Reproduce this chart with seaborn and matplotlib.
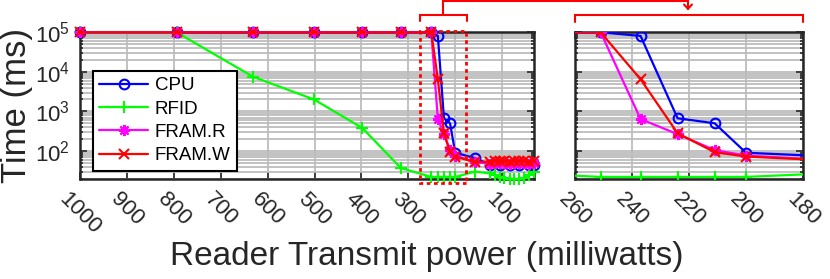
import numpy as np
import matplotlib
matplotlib.use("Agg")
import matplotlib.pyplot as plt
import seaborn as sns
from matplotlib.ticker import LogLocator, NullFormatter, FixedLocator
from matplotlib.lines import Line2D
from matplotlib.patches import Rectangle

# ---------------- data ----------------
power_mw = [1000, 794, 631, 501, 398, 316, 251, 237, 224, 211, 200, 158,
            126, 116, 105, 95, 84, 74, 63, 53, 42, 32]
cpu_power = [1000, 794, 631, 501, 398, 316, 251, 237, 224, 211, 200, 158,
             126, 105, 84, 63, 42, 32]
cpu_ms = [100000, 100000, 100000, 100000, 100000, 100000, 100000, 81000, 670,
          500, 90, 66, 45, 44, 45, 44, 45, 44]
rfid_ms = [100000, 100000, 7500, 2000, 380, 37, 22, 22, 22, 22, 22, 30,
           27, 24, 22, 21, 20, 19, 20, 21, 25, 30]
framr_ms = [100000, 100000, 100000, 100000, 100000, 100000, 100000, 640, 265,
            105, 76, 52, 48, 50, 49, 50, 48, 50, 49, 50, 48, 50]
framw_ms = [100000, 100000, 100000, 100000, 100000, 100000, 100000, 6500, 280,
            93, 72, 52, 54, 56, 55, 56, 54, 56, 55, 56, 54, 56]

left_ticks = [1000, 900, 800, 700, 600, 500, 400, 300, 200, 100]
right_ticks = [260, 240, 220, 200, 180]
y_ticks = [1e2, 1e3, 1e4, 1e5]

# ---------------- style ----------------
sns.set_style("ticks")
plt.rcParams["font.family"] = ["Liberation Sans", "DejaVu Sans"]
plt.rcParams["mathtext.fontset"] = "custom"
plt.rcParams["mathtext.rm"] = "Liberation Sans"
plt.rcParams["mathtext.it"] = "Liberation Sans:italic"
TXT = "#262626"

W, H = 830, 279
fig = plt.figure(figsize=(W / 100, H / 100), dpi=100)


def px(x, y):
    return x / W, 1 - y / H


ax_bottom = 1 - 179 / H
ax_height = 146.7 / H
ax1 = fig.add_axes([80 / W, ax_bottom, 454 / W, ax_height])
ax2 = fig.add_axes([575 / W, ax_bottom, 228 / W, ax_height])

series = [
    ("CPU", cpu_power, cpu_ms, (0, 0, 1), "o", dict(markerfacecolor="none", markersize=7)),
    ("RFID", power_mw, rfid_ms, (0, 1, 0), "+", dict(markersize=8)),
    ("FRAM.R", power_mw, framr_ms, (1, 0, 1), (8, 2, 0), dict(markersize=8)),
    ("FRAM.W", power_mw, framw_ms, (1, 0, 0), "x", dict(markersize=6.5)),
]

for ax in (ax1, ax2):
    ax.set_yscale("log")
    for name, xs, ys, col, mk, extra in series:
        sns.lineplot(x=xs, y=ys, ax=ax, color=col, marker=mk, markeredgecolor=col,
                     markeredgewidth=1.5, linewidth=1.6, estimator=None, sort=False,
                     label=name if ax is ax1 else None, zorder=3, **extra)
    ax.set_ylim(19.5, 1e5)
    ax.yaxis.set_major_locator(FixedLocator(y_ticks))
    ax.yaxis.set_minor_locator(LogLocator(base=10, subs=np.arange(2, 10), numticks=20))
    ax.yaxis.set_minor_formatter(NullFormatter())
    ax.grid(True, which="major", axis="both", color="#b8b8b8", lw=1.2)
    ax.grid(True, which="minor", axis="y", color="#bdbdbd", lw=1.3)
    ax.set_axisbelow(True)
    ax.tick_params(which="both", direction="in", top=True, right=True, colors=TXT,
                   width=1.2)
    ax.tick_params(which="major", length=5, labelsize=16)
    ax.tick_params(axis="x", which="major", pad=7)
    ax.tick_params(axis="y", which="major", labelsize=16, pad=7)
    ax.tick_params(which="minor", length=2.5)
    for sp in ax.spines.values():
        sp.set_visible(True)
        sp.set_linewidth(1.8)
        sp.set_color(TXT)
    ax.set_xlabel("")
    ax.set_ylabel("")

# markers on the axis edge are drawn whole in the reference
for ln in ax1.get_lines():
    ln.set_clip_on(False)

ax1.set_xlim(1000, 32)
ax1.set_xticks(left_ticks)
ax1.set_xticklabels([str(t) for t in left_ticks], rotation=-45, ha="center", va="top")
ax2.set_xlim(260, 180)
ax2.set_xticks(right_ticks)
ax2.set_xticklabels([str(t) for t in right_ticks], rotation=-45, ha="center", va="top")
ax2.tick_params(axis="y", labelleft=False)
if ax2.get_legend() is not None:
    ax2.get_legend().remove()

ax1.set_ylabel("Time (ms)", fontsize=25, color=TXT)
ax1.yaxis.set_label_coords(-0.103, 0.5)

handles, labels = ax1.get_legend_handles_labels()
leg = ax1.legend(handles, labels, loc="upper left", bbox_to_anchor=(0.028, 0.738),
                 fontsize=13.5, frameon=True, fancybox=False, framealpha=1,
                 edgecolor="black", handlelength=2.6, handletextpad=0.35,
                 labelspacing=0.33, borderpad=0.35, borderaxespad=0)
leg.get_frame().set_linewidth(1.5)
leg.set_zorder(20)
for t in leg.get_texts():
    t.set_color("black")

# zoom box on the left panel
ax1.add_patch(Rectangle((176, -0.027), 99, 1.036, transform=ax1.get_xaxis_transform(),
                        fill=False, edgecolor="red", linestyle=(0, (1.3, 1.3)), lw=2,
                        clip_on=False, zorder=10))

# brackets and arrow (figure pixel coordinates)
def pline(points):
    xs = [px(x, y)[0] for x, y in points]
    ys = [px(x, y)[1] for x, y in points]
    fig.add_artist(Line2D(xs, ys, color="red", lw=1.5, transform=fig.transFigure,
                          solid_joinstyle="miter"))

pline([(420, 20.5), (420, 15), (467, 15), (467, 20.5)])
pline([(443, 15), (443, 1.2), (688, 1.2), (688, 8.5)])
pline([(684, 4.5), (688, 8.8), (692, 4.5)])
pline([(575, 22), (575, 15), (803, 15), (803, 22)])

fig.text(427 / W, 1 - 256 / H, "Reader Transmit power (milliwatts)", fontsize=24,
         ha="center", va="center", color=TXT)

fig.savefig("out.png", dpi=100)
